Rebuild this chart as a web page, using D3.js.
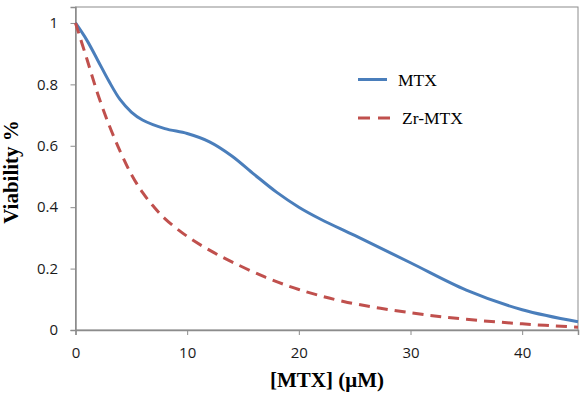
<!DOCTYPE html>
<html>
<head>
<meta charset="utf-8">
<script src="https://cdn.jsdelivr.net/npm/d3@7"></script>
<style>
body { margin: 0; background: #fff; }
.tick text { font-family: "Open Sans", "Noto Sans", sans-serif; font-size: 15px; fill: #1a1a1a; }
.axis-title { font-family: "Liberation Serif", "Times New Roman", serif; font-weight: bold; font-size: 21px; fill: #000; }
.legend text { font-family: "Liberation Serif", "Times New Roman", serif; font-size: 17.5px; fill: #000; }
</style>
</head>
<body>
<svg id="chart" width="582" height="394"></svg>
<script>
// MTX (solid blue)
const mtxConc = [0, 1, 2, 3, 4, 5, 6, 8, 10, 12, 14, 16, 18, 20, 22, 25, 30, 35, 40, 45];
const mtxViability = [1.0, 0.945, 0.878, 0.81, 0.75, 0.71, 0.684, 0.656, 0.64, 0.613, 0.567, 0.507, 0.449, 0.40, 0.36, 0.308, 0.219, 0.13, 0.066, 0.027];

// Zr-MTX (dashed red)
const zrConc = [0, 1, 2, 3, 4, 5, 6, 7, 8, 10, 12, 14, 17, 20, 24, 30, 35, 40, 45];
const zrViability = [1.0, 0.885, 0.768, 0.668, 0.582, 0.507, 0.448, 0.402, 0.363, 0.305, 0.26, 0.222, 0.172, 0.132, 0.093, 0.056, 0.035, 0.02, 0.009];

const xTicks = [0, 10, 20, 30, 40];
const yTicks = [0, 0.2, 0.4, 0.6, 0.8, 1];
const seriesNames = ["MTX", "Zr-MTX"];

const margin = { left: 75.5, right: 4, top: 7, bottom: 64 };
const width = 582, height = 394;

const svg = d3.select("#chart");

const x = d3.scaleLinear().domain([0, 45]).range([margin.left, width - margin.right]);
const y = d3.scaleLinear().domain([0, 1.052]).range([height - margin.bottom, margin.top]);

// plot frame
svg.append("rect")
    .attr("x", x(0)).attr("y", y(1.052))
    .attr("width", x(45) - x(0)).attr("height", y(0) - y(1.052))
    .attr("fill", "none").attr("stroke", "#8c8c8c").attr("stroke-width", 1);

const gx = svg.append("g")
    .attr("transform", `translate(0,${y(0)})`)
    .call(d3.axisBottom(x).tickValues(xTicks).tickSize(5).tickPadding(12).tickFormat(d3.format("d")));
const gy = svg.append("g")
    .attr("transform", `translate(${x(0)},0)`)
    .call(d3.axisLeft(y).tickValues(yTicks).tickSize(5).tickPadding(12.5).tickFormat(d => d === 0 || d === 1 ? d : d.toFixed(1)));

[gx, gy].forEach(g => {
    g.select(".domain").attr("stroke", "#8c8c8c").attr("stroke-width", 1.5);
    g.selectAll(".tick line").attr("stroke", "#8c8c8c");
});

// smoothed lines, like the spreadsheet's "smoothed line" option
const line = d3.line().x(d => x(d[0])).y(d => y(d[1])).curve(d3.curveCatmullRom.alpha(0.5));

svg.append("path")
    .datum(mtxConc.map((c, i) => [c, mtxViability[i]]))
    .attr("d", line)
    .attr("fill", "none").attr("stroke", "#4a7ebb").attr("stroke-width", 3);

svg.append("path")
    .datum(zrConc.map((c, i) => [c, zrViability[i]]))
    .attr("d", line)
    .attr("fill", "none").attr("stroke", "#c0504d").attr("stroke-width", 3)
    .attr("stroke-dasharray", "11,7");

// axis titles
svg.append("text").attr("class", "axis-title")
    .attr("x", 327).attr("y", 387).attr("text-anchor", "middle")
    .text("[MTX] (μM)");
svg.append("text").attr("class", "axis-title")
    .attr("transform", "translate(18,172) rotate(-90)")
    .attr("text-anchor", "middle")
    .text("Viability %");

// legend
const legend = svg.append("g").attr("class", "legend");
const legendY = [79.5, 118];
legend.selectAll("line")
    .data(seriesNames)
    .join("line")
    .attr("x1", 358).attr("x2", (d, i) => i === 0 ? 387 : 390)
    .attr("y1", (d, i) => legendY[i]).attr("y2", (d, i) => legendY[i])
    .attr("stroke", (d, i) => i === 0 ? "#4a7ebb" : "#c0504d")
    .attr("stroke-width", 3)
    .attr("stroke-dasharray", (d, i) => i === 0 ? null : "12,8");
legend.selectAll("text")
    .data(seriesNames)
    .join("text")
    .attr("x", (d, i) => i === 0 ? 398 : 402)
    .attr("y", (d, i) => legendY[i] + 6)
    .text(d => d);
</script>
</body>
</html>
